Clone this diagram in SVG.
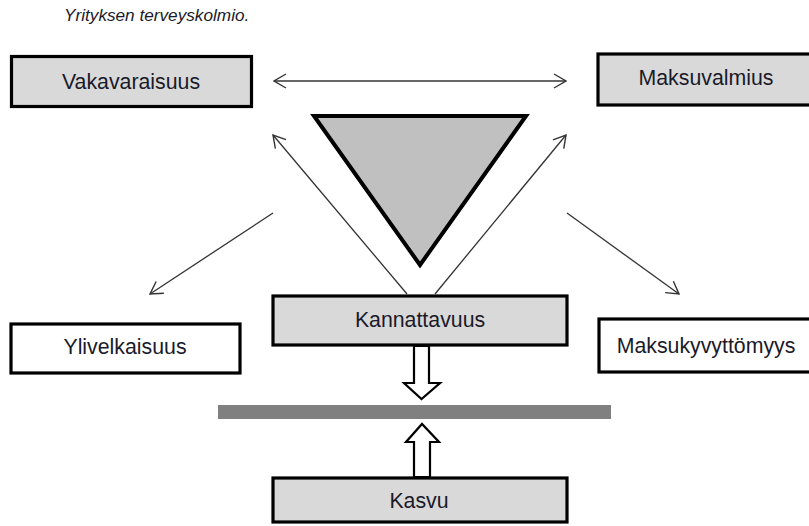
<svg xmlns="http://www.w3.org/2000/svg" width="809" height="526" viewBox="0 0 809 526">
<defs>
<style>
.box{stroke:#000;stroke-width:3.2}
.gray{fill:#d9d9d9}
.white{fill:#fff}
.lbl{font-family:"Liberation Sans",Arial,sans-serif;font-size:21.3px;fill:#1a1a2a;text-anchor:middle}
.title{font-family:"Liberation Sans",Arial,sans-serif;font-size:17.2px;font-style:italic;fill:#1a1a2a}
.conn{stroke:#333;stroke-width:1.3;fill:none}
.block{fill:#fff;stroke:#000;stroke-width:2.2;stroke-linejoin:miter}
</style>
<marker id="open" viewBox="0 0 14 16" refX="13" refY="8" markerWidth="14" markerHeight="16" markerUnits="userSpaceOnUse" orient="auto-start-reverse">
<path d="M1,1 L13,8 L1,15" fill="none" stroke="#333" stroke-width="1.4"/>
</marker>
</defs>
<rect width="809" height="526" fill="#fff"/>
<text class="title" x="64" y="21">Yrityksen terveyskolmio.</text>

<g id="triangle">
<polygon points="314,116 526,116 420,265" fill="#c0c0c0" stroke="#000" stroke-width="4" stroke-linejoin="miter"/>
</g>

<g id="connectors">
<line class="conn" x1="274" y1="81" x2="566" y2="81" marker-start="url(#open)" marker-end="url(#open)"/>
<line class="conn" x1="407" y1="294" x2="273" y2="135" marker-end="url(#open)"/>
<line class="conn" x1="435" y1="294" x2="566" y2="135" marker-end="url(#open)"/>
<line class="conn" x1="273" y1="213" x2="150" y2="294" marker-end="url(#open)"/>
<line class="conn" x1="567" y1="213" x2="679" y2="294" marker-end="url(#open)"/>
<polygon class="block" points="414,346 429,346 429,383 440,383 421.5,399 404,383 414,383"/>
<polygon class="block" points="414,477 430,477 430,442 439,442 422,424 406,442 414,442"/>
</g>

<g id="bar">
<rect x="218" y="405" width="393" height="14" fill="#808080"/>
</g>

<g id="vakavaraisuus">
<rect class="box gray" x="11.5" y="56.5" width="240" height="50"/>
<text class="lbl" x="131" y="89">Vakavaraisuus</text>
</g>
<g id="maksuvalmius">
<rect class="box gray" x="598" y="54" width="220" height="51"/>
<text class="lbl" x="706" y="85">Maksuvalmius</text>
</g>
<g id="kannattavuus">
<rect class="box gray" x="273" y="296" width="294" height="49"/>
<text class="lbl" x="420" y="327">Kannattavuus</text>
</g>
<g id="ylivelkaisuus">
<rect class="box white" x="11" y="324" width="229" height="49"/>
<text class="lbl" x="125" y="354">Ylivelkaisuus</text>
</g>
<g id="maksukyvyttomyys">
<rect class="box white" x="599" y="319" width="220" height="53"/>
<text class="lbl" x="706" y="353">Maksukyvyttömyys</text>
</g>
<g id="kasvu">
<rect class="box gray" x="273" y="478" width="294" height="44"/>
<text class="lbl" x="419" y="508">Kasvu</text>
</g>
</svg>
